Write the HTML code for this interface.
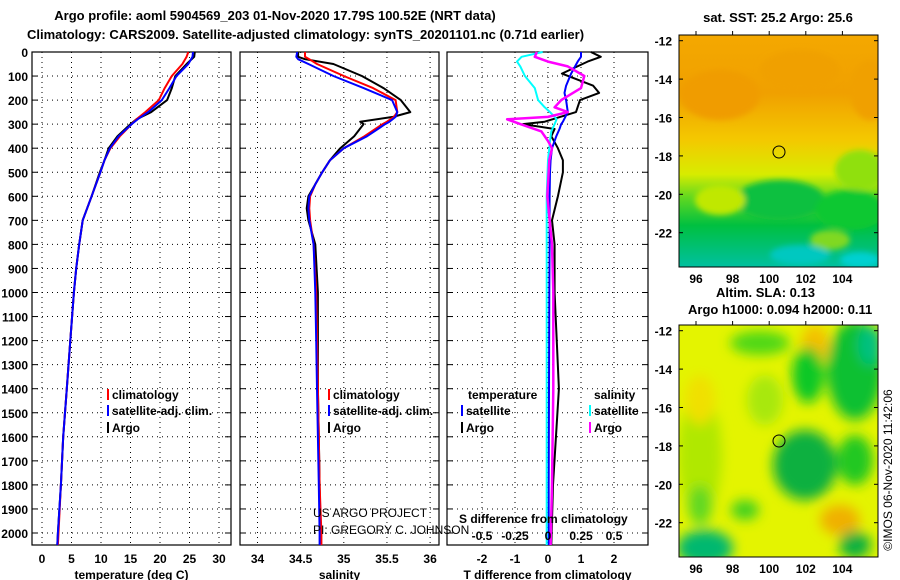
<!DOCTYPE html>
<html><head><meta charset="utf-8"><style>
html,body{margin:0;padding:0;background:#fff;}
svg{display:block;font-family:"Liberation Sans",sans-serif;}
.b{font-weight:bold;font-size:13px;}
.t{font-weight:bold;font-size:12px;}
</style></head><body>
<svg id="s" width="900" height="580" viewBox="0 0 900 580">
<defs>
<filter id="bl" x="-50%" y="-50%" width="200%" height="200%"><feGaussianBlur stdDeviation="6"/></filter>
<filter id="bl2" x="-50%" y="-50%" width="200%" height="200%"><feGaussianBlur stdDeviation="3"/></filter>
<linearGradient id="sst" x1="0" y1="0" x2="0" y2="1">
<stop offset="0" stop-color="#f4a800"/><stop offset="0.25" stop-color="#f0a000"/><stop offset="0.45" stop-color="#f4c800"/><stop offset="0.6" stop-color="#d8ec00"/><stop offset="0.7" stop-color="#60d820"/><stop offset="0.82" stop-color="#00c040"/><stop offset="1" stop-color="#00c0a0"/>
</linearGradient>
<clipPath id="c1"><rect x="679" y="35" width="199" height="232"/></clipPath>
<clipPath id="c2"><rect x="679" y="325" width="199" height="232"/></clipPath>
</defs>
<text class="b" x="275" y="20" text-anchor="middle">Argo profile: aoml 5904569_203 01-Nov-2020 17.79S 100.52E (NRT data)</text>
<text class="b" x="27" y="39">Climatology: CARS2009. Satellite-adjusted climatology: synTS_20201101.nc (0.71d earlier)</text>
<g id="panels"></g>
<g>
<text class="b" x="778" y="22" text-anchor="middle">sat. SST: 25.2 Argo: 25.6</text>
<g clip-path="url(#c1)">
<rect x="679" y="35" width="199" height="232" fill="url(#sst)"/>
<g filter="url(#bl2)">
<ellipse cx="720" cy="95" rx="40" ry="25" fill="#f09c00"/>
<ellipse cx="800" cy="70" rx="40" ry="20" fill="#f0a000"/>
<ellipse cx="870" cy="90" rx="20" ry="30" fill="#f0a000"/>
<ellipse cx="860" cy="170" rx="25" ry="20" fill="#90e010"/>
<ellipse cx="780" cy="200" rx="45" ry="20" fill="#10c040"/>
<ellipse cx="850" cy="210" rx="35" ry="20" fill="#10c830"/>
<ellipse cx="720" cy="200" rx="25" ry="15" fill="#c0e800"/>
<ellipse cx="830" cy="240" rx="20" ry="10" fill="#80d820"/>
<ellipse cx="800" cy="255" rx="30" ry="10" fill="#00c8c0"/>
<ellipse cx="860" cy="260" rx="20" ry="8" fill="#00d0d0"/>
</g>
</g>
<rect x="679" y="35" width="199" height="232" fill="none" stroke="#000" stroke-width="1"/>
<circle cx="779" cy="152" r="6" fill="none" stroke="#000" stroke-width="1"/>
</g>
<g>
<text class="b" x="716" y="297">Altim. SLA: 0.13</text>
<text class="b" x="688" y="314">Argo h1000: 0.094 h2000: 0.11</text>
<g clip-path="url(#c2)">
<rect x="679" y="325" width="199" height="232" fill="#e4f400"/>
<g filter="url(#bl)">
<ellipse cx="700" cy="455" rx="22" ry="60" fill="#b0e800"/>
<ellipse cx="765" cy="400" rx="18" ry="25" fill="#a8e810"/>
<ellipse cx="815" cy="345" rx="14" ry="20" fill="#f4c000"/>
<ellipse cx="700" cy="400" rx="15" ry="25" fill="#f0e000"/>
<ellipse cx="808" cy="375" rx="16" ry="28" fill="#10c828"/>
<ellipse cx="760" cy="343" rx="30" ry="12" fill="#50d818"/>
<ellipse cx="855" cy="370" rx="28" ry="50" fill="#10c030"/>
<ellipse cx="870" cy="345" rx="12" ry="20" fill="#00c080"/>
<ellipse cx="805" cy="465" rx="32" ry="35" fill="#10b040"/>
<ellipse cx="840" cy="520" rx="20" ry="15" fill="#f0b000"/>
<ellipse cx="855" cy="460" rx="18" ry="25" fill="#20c820"/>
<ellipse cx="705" cy="548" rx="28" ry="18" fill="#00b870"/>
<ellipse cx="855" cy="545" rx="16" ry="14" fill="#10b040"/>
<ellipse cx="745" cy="510" rx="14" ry="10" fill="#40d020"/>
<ellipse cx="700" cy="505" rx="12" ry="20" fill="#60d820"/>
</g>
</g>
<rect x="679" y="325" width="199" height="232" fill="none" stroke="#000" stroke-width="1"/>
<circle cx="779" cy="441" r="6" fill="none" stroke="#000" stroke-width="1"/>
</g>
<text x="892" y="470" font-size="12" text-anchor="middle" transform="rotate(-90 892 470)">©IMOS 06-Nov-2020 11:42:06</text>
<text x="313" y="517" font-size="12">US ARGO PROJECT</text>
<text x="313" y="534" font-size="12">PI: GREGORY C. JOHNSON</text>
</svg>
<script>
// depth axis
const depthTicks = [0,100,200,300,400,500,600,700,800,900,1000,1100,1200,1300,1400,1500,1600,1700,1800,1900,2000];
// temperature panel
const tDepth = [0,20,50,100,150,200,250,280,300,350,400,450,500,600,700,800,900,1000,1200,1400,1600,1800,2000,2050];
const tArgo = [25.9,25.8,24.5,22.6,22.0,21.2,18.5,16.0,15.0,12.8,11.3,10.6,9.8,8.4,6.9,6.3,5.8,5.4,4.8,4.2,3.6,3.2,2.7,2.6];
const tClim = [24.8,24.5,23.8,22.0,20.8,19.8,17.5,16.0,15.2,13.2,11.6,10.6,9.9,8.4,6.9,6.3,5.8,5.4,4.8,4.2,3.6,3.2,2.8,2.7];
const tSat = [25.6,25.5,24.8,22.8,21.6,20.3,18.0,16.2,15.2,13.0,11.5,10.6,9.9,8.4,6.9,6.3,5.8,5.4,4.8,4.2,3.6,3.2,2.7,2.6];
const tTicks = [0,5,10,15,20,25,30];
// salinity panel
const sDepth = [0,20,30,50,100,150,200,250,270,290,300,350,400,450,500,550,600,650,700,800,1000,1200,1400,1600,1800,2000,2050];
const sArgo = [34.47,34.47,34.55,34.88,35.21,35.46,35.66,35.77,35.57,35.19,35.23,35.12,34.96,34.84,34.75,34.67,34.59,34.57,34.59,34.67,34.70,34.70,34.70,34.71,34.72,34.73,34.73];
const sClim = [34.55,34.55,34.6,34.69,35.0,35.34,35.6,35.62,35.58,35.5,35.45,35.24,35.0,34.84,34.75,34.67,34.61,34.6,34.61,34.65,34.68,34.69,34.70,34.71,34.72,34.74,34.74];
const sSat = [34.46,34.45,34.47,34.59,34.88,35.23,35.56,35.62,35.6,35.53,35.48,35.27,35.0,34.84,34.75,34.67,34.6,34.59,34.6,34.65,34.67,34.68,34.69,34.70,34.71,34.72,34.72];
const sTicks = [34,34.5,35,35.5,36];
// difference panel
const dtDepth = [0,20,40,90,140,170,200,250,290,300,320,350,400,450,500,600,700,800,1000,1400,1800,2050];
const dtArgo = [1.3,1.6,1.2,0.42,1.37,1.55,0.97,0.85,-0.1,-0.76,0.2,0.1,0.3,0.45,0.45,0.3,0.12,0.2,0.2,0.33,0.15,0.1];
const dtSat = [1.0,1.0,0.9,0.7,0.55,0.5,0.55,0.6,0.45,0.4,0.35,0.25,0.12,0.08,0.06,0.05,0.05,0.05,0.04,0.03,0.02,0.02];
const dsDepth = [0,20,40,60,100,150,200,230,250,270,280,300,330,370,400,450,600,800,1000,1400,1800,2050];
const dsArgo = [-0.085,-0.1,0.0,0.15,0.275,0.25,0.1,0.05,0.15,0.0,-0.31,-0.21,-0.05,0.0,0.03,0.01,-0.005,0.03,0.04,0.04,0.03,0.02];
const dsSat = [-0.04,-0.2,-0.235,-0.21,-0.175,-0.1,-0.075,-0.025,0.015,0.05,0.065,0.05,0.025,0.015,0.01,0.0,-0.01,-0.01,-0.01,-0.01,-0.01,-0.01];
const dtTicks = [-2,-1,0,1,2];
const dsTicks = [-0.5,-0.25,0,0.25,0.5];
const dsTickLabels = ['-0.5','-0.25','0','0.25','0.5'];
// map axes
const latTicks = [-12,-14,-16,-18,-20,-22];
const lonTicks = [96,98,100,102,104];

const NS='http://www.w3.org/2000/svg';
const svg=document.getElementById('s');
const G=document.getElementById('panels');
function mk(tag,attrs,parent){const e=document.createElementNS(NS,tag);for(const k in attrs)e.setAttribute(k,attrs[k]);(parent||G).appendChild(e);return e;}
const yTop=52,yBot=545;
const yD=d=>yTop+d*0.2405;
const xT=v=>42+v*5.9;
const xS=v=>257.5+(v-34)*86.3;
const xDT=v=>548+v*33;
const xDS=v=>548+v*132;
const panels=[[32,231,xT,tTicks,'temperature (deg C)','temperature-panel'],[240,439,xS,sTicks,'salinity','salinity-panel'],[447,648,xDT,dtTicks,'T difference from climatology','difference-panel']];
panels.forEach(p=>{
  const [x0,x1,fx,ticks,title,name]=p;
  const g=mk('g',{});
  
  
  depthTicks.forEach(d=>{const y=yD(d);
    const l=mk('line',{x1:x0,x2:x1,y1:y,y2:y,stroke:'#000','stroke-dasharray':'1,4','stroke-width':1},g);
    
    
    mk('line',{x1:x0,x2:x0+6,y1:y,y2:y,stroke:'#000'},g);mk('line',{x1:x1-6,x2:x1,y1:y,y2:y,stroke:'#000'},g);});
  ticks.forEach(v=>{const x=fx(v);
    const l=mk('line',{x1:x,x2:x,y1:yTop,y2:yBot,stroke:'#000','stroke-dasharray':'1,4','stroke-width':1},g);
    
    
    const t=mk('text',{x:x,y:563,'text-anchor':'middle',class:'t'},g);t.textContent=String(v);
    
    });
  const r=mk('rect',{x:x0,y:yTop,width:x1-x0,height:yBot-yTop,fill:'none',stroke:'#000','stroke-width':1.2},g);
  
  
  const tt=mk('text',{x:(x0+x1)/2,y:579,'text-anchor':'middle',class:'t'},g);tt.textContent=title;
  
  
});
depthTicks.forEach(d=>{const t=mk('text',{x:28,y:yD(d)+5,'text-anchor':'end',class:'t'});t.textContent=String(d);
  
  });
function line(depths,vals,fx,color,w,name){
  const pts=depths.map((d,i)=>fx(vals[i]).toFixed(1)+','+yD(d).toFixed(1)).join(' ');
  const p=mk('polyline',{points:pts,fill:'none',stroke:color,'stroke-width':w,'stroke-linejoin':'round'});
  
  
}
line(tDepth,tArgo,xT,'#000',2,'temperature-argo-line');
line(tDepth,tClim,xT,'#f00',2,'temperature-climatology-line');
line(tDepth,tSat,xT,'#00f',2,'temperature-satellite-line');
line(sDepth,sArgo,xS,'#000',2,'salinity-argo-line');
line(sDepth,sClim,xS,'#f00',2,'salinity-climatology-line');
line(sDepth,sSat,xS,'#00f',2,'salinity-satellite-line');
line(dtDepth,dtArgo,xDT,'#000',2,'tdiff-argo-line');
line(dtDepth,dtSat,xDT,'#00f',2,'tdiff-satellite-line');
line(dsDepth,dsSat,xDS,'#0ff',2,'sdiff-satellite-line');
line(dsDepth,dsArgo,xDS,'#f0f',2.5,'sdiff-argo-line');
dsTicks.forEach((v,i)=>{const t=mk('text',{x:xDS(v),y:540,'text-anchor':'middle',class:'t'});t.textContent=dsTickLabels[i];
  
  });
const sdt=mk('text',{x:459,y:523,class:'t'});sdt.textContent='S difference from climatology';


function leg(x,y,color,label,name){
  mk('rect',{x:x,y:y-10,width:2,height:11,fill:color});
  const t=mk('text',{x:x+5,y:y,class:'t'});t.textContent=label;
  
  
}
[[107,'temp'],[328,'sal']].forEach(([x,n])=>{
  leg(x,399,'#f00','climatology',n+'-legend-climatology');
  leg(x,415,'#00f','satellite-adj. clim.',n+'-legend-satellite');
  leg(x,432,'#000','Argo',n+'-legend-argo');
});
const lt=mk('text',{x:468,y:399,class:'t'});lt.textContent='temperature';


const ls=mk('text',{x:594,y:399,class:'t'});ls.textContent='salinity';


leg(461,415,'#00f','satellite','diff-legend-t-satellite');
leg(461,432,'#000','Argo','diff-legend-t-argo');
leg(589,415,'#0ff','satellite','diff-legend-s-satellite');
leg(589,432,'#f0f','Argo','diff-legend-s-argo');
[[35,267],[325,557]].forEach(([y0,y1])=>{
  latTicks.forEach(v=>{const y=y0+5.7+(-12-v)*19.2;
    const t=mk('text',{x:672,y:y+5,'text-anchor':'end',class:'t'},svg);t.textContent=String(v);
    
    
    mk('line',{x1:679,x2:683,y1:y,y2:y,stroke:'#000'},svg);mk('line',{x1:874,x2:878,y1:y,y2:y,stroke:'#000'},svg);});
  lonTicks.forEach(v=>{const x=696+(v-96)*18.3;
    const t=mk('text',{x:x,y:y1+16,'text-anchor':'middle',class:'t'},svg);t.textContent=String(v);
    
    
    mk('line',{x1:x,x2:x,y1:y0-4,y2:y0,stroke:'#000'},svg);});
});
</script>
</body></html>
